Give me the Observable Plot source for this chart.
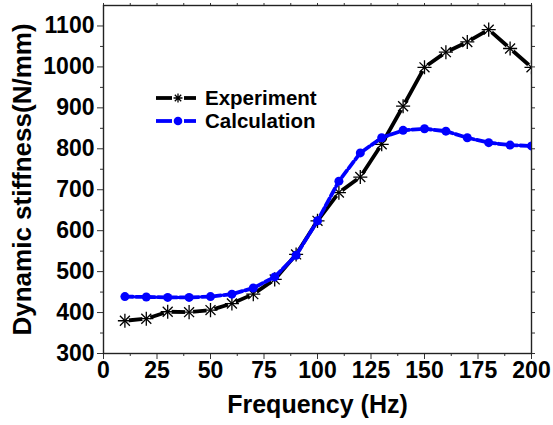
<!DOCTYPE html>
<html><head><meta charset="utf-8">
<script src="https://cdn.jsdelivr.net/npm/d3@7"></script>
<script src="https://cdn.jsdelivr.net/npm/@observablehq/plot@0.6"></script>
<style>
body{margin:0;background:#fff;}
#wrap{position:relative;width:553px;height:425px;font-family:"Liberation Sans",Arial,sans-serif;font-weight:bold;color:#000;}
.leg{position:absolute;left:155px;height:22px;display:flex;align-items:center;font-size:20.5px;}
.leg svg{margin-right:9px;}
</style></head><body><div id="wrap"></div>
<script>
const frequency   = [10,20,30,40,50,60,70,80,90,100,110,120,130,140,150,160,170,180,190,200];
const experiment  = [380,385,402,401,406,422,445,481,542,624,693,731,811,904,999,1036,1061,1091,1045,999];
const calculation = [439,438,437,437,439,445,460,487,540,624,721,790,827,845,849,843,827,815,809,807];
const xTicks = [0,25,50,75,100,125,150,175,200];
const yTicks = [300,400,500,600,700,800,900,1000,1100];
const seriesNames = ["Experiment","Calculation"];

const expData = frequency.map((f,i)=>({f, v: experiment[i]}));
const calcData = frequency.map((f,i)=>({f, v: calculation[i]}));

const xMinor = d3.range(12.5, 200, 25);
const yMinor = d3.range(350, 1150, 100);
const topTicks = d3.range(0, 200.1, 12.5);
const rightTicks = d3.range(300, 1150, 50);
const fmt = d => String(d);

const chart = Plot.plot({
  width: 553, height: 425,
  marginLeft: 103, marginRight: 22, marginTop: 5, marginBottom: 72,
  style: {fontFamily: '"Liberation Sans", Arial, sans-serif', fontWeight: "bold", fontSize: "23px", color: "#000", background: "#fff"},
  x: {domain: [0, 200]},
  y: {domain: [300, 1150]},
  marks: [
    Plot.axisX({ticks: xTicks, tickFormat: fmt, tickSize: 6, tickPadding: 2, label: null, stroke: "#333", fontSize: 23}),
    Plot.axisX({ticks: xMinor, tickSize: 3, text: null, label: null, stroke: "#333"}),
    Plot.axisX({anchor: "top", ticks: topTicks, tickSize: 3, text: null, label: null, stroke: "#333"}),
    Plot.axisY({ticks: yTicks, tickFormat: fmt, tickSize: 6, tickPadding: 3, label: null, stroke: "#333", fontSize: 23}),
    Plot.axisY({ticks: yMinor, tickSize: 3, text: null, label: null, stroke: "#333"}),
    Plot.axisY({anchor: "right", ticks: rightTicks, tickSize: 3, text: null, label: null, stroke: "#333"}),
    Plot.frame({stroke: "#222", strokeWidth: 1.4}),
    Plot.text(["Frequency (Hz)"], {frameAnchor: "bottom", dy: 59, textAnchor: "middle", fontSize: 25, fontWeight: "bold", fill: "#000"}),
    Plot.text(["Dynamic stiffness(N/mm)"], {frameAnchor: "left", dx: -81, rotate: -90, textAnchor: "middle", fontSize: 26, fontWeight: "bold", fill: "#000"}),
    Plot.line(expData, {x: "f", y: "v", stroke: "#000", strokeWidth: 3.8, clip: true}),
    Plot.dot(expData, {x: "f", y: "v", r: 4.2, fill: "#fff", stroke: null, clip: true}),
    Plot.dot(expData, {x: "f", y: "v", symbol: "plus", r: 4.6, stroke: "#000", strokeWidth: 1.3, clip: true}),
    Plot.dot(expData, {x: "f", y: "v", symbol: "times", r: 4.6, stroke: "#000", strokeWidth: 1.3, clip: true}),
    Plot.line(calcData, {x: "f", y: "v", stroke: "#0000ff", strokeWidth: 3.8, strokeDasharray: "8,3", clip: true}),
    Plot.dot(calcData, {x: "f", y: "v", r: 4.5, fill: "#0000ff", stroke: null, clip: true})
  ]
});
const wrap = document.getElementById("wrap");
wrap.appendChild(chart);

function legendRow(top, name, color, star){
  const div = document.createElement("div");
  div.className = "leg";
  div.style.top = top + "px";
  const marker = star
    ? `<rect x="19" y="7" width="8" height="8" fill="#fff"/><path d="M23 6.5V15.5M18.5 11H27.5M19.8 7.8L26.2 14.2M26.2 7.8L19.8 14.2" stroke="${color}" stroke-width="1.3"/>`
    : `<circle cx="23" cy="11" r="4.3" fill="${color}"/>`;
  div.innerHTML = `<svg width="41" height="22"><line x1="1" x2="17" y1="11" y2="11" stroke="${color}" stroke-width="3.8"/><line x1="29" x2="41" y1="11" y2="11" stroke="${color}" stroke-width="3.8"/>${marker}</svg><span>${name}</span>`;
  wrap.appendChild(div);
}
legendRow(87, seriesNames[0], "#000", true);
legendRow(110, seriesNames[1], "#0000ff", false);
</script>
</body></html>
